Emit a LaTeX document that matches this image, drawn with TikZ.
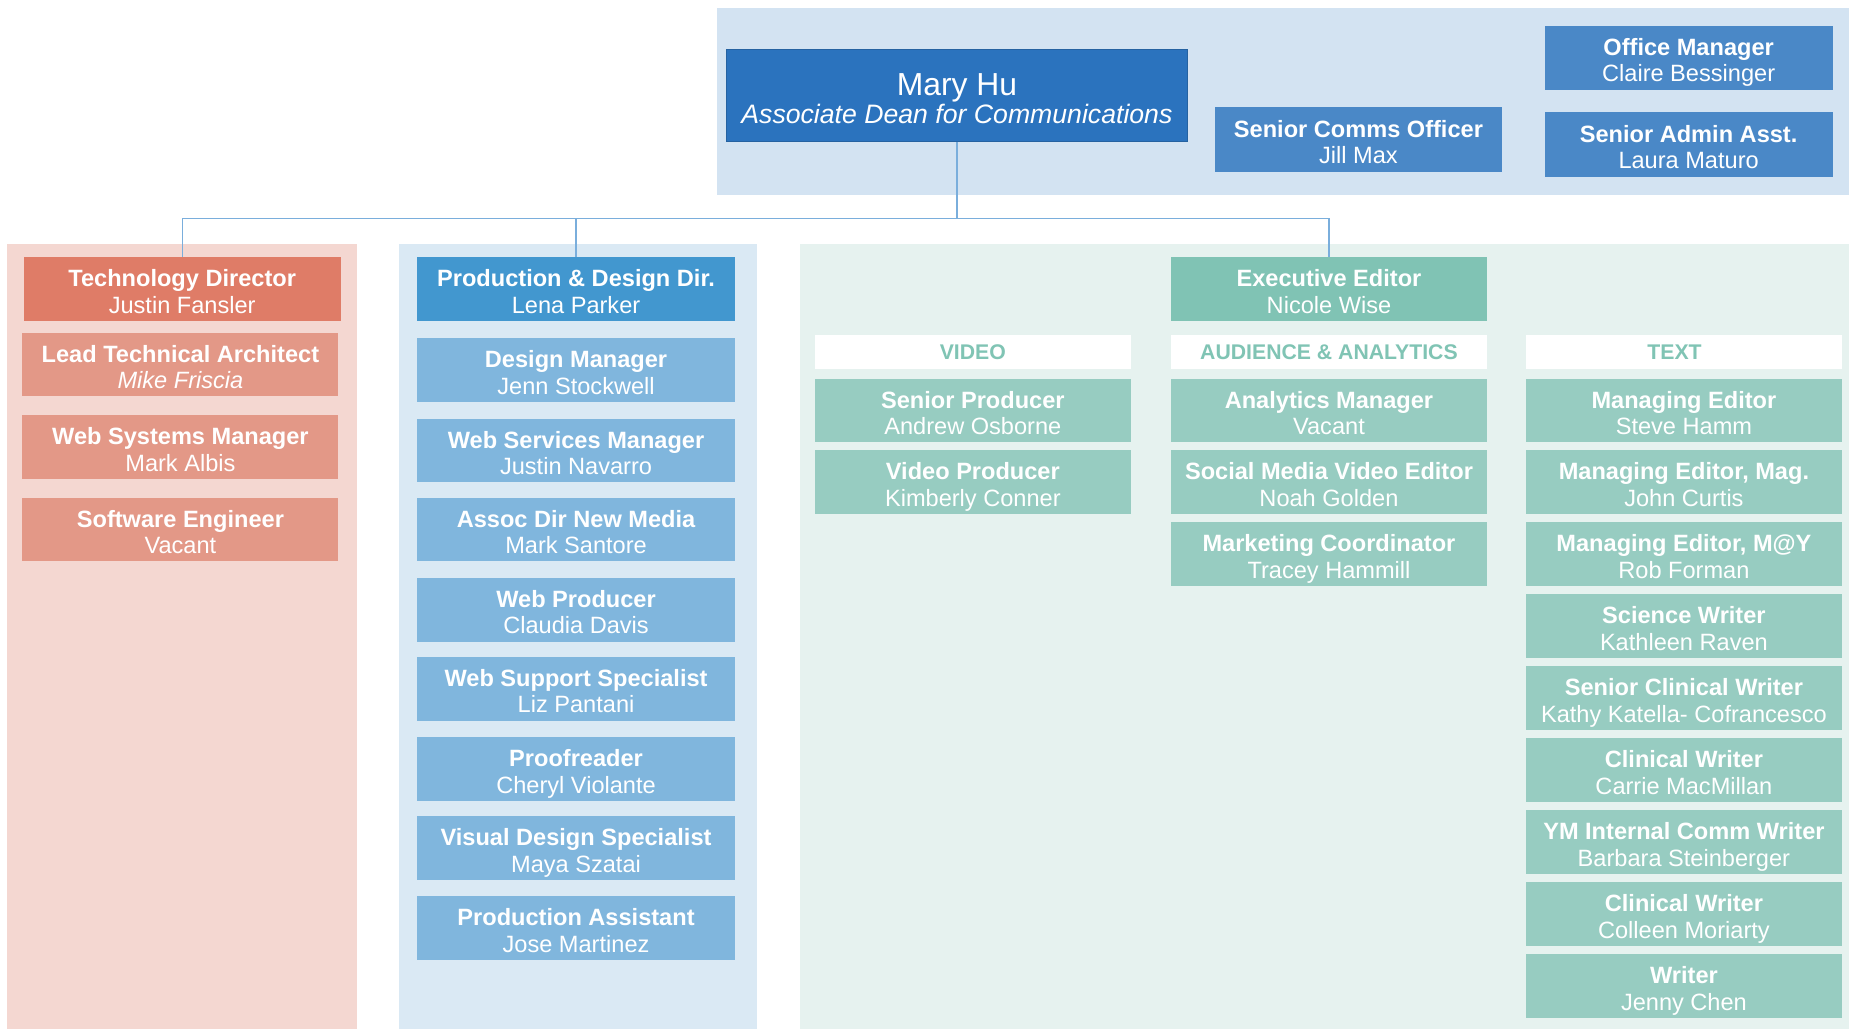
\documentclass[tikz,border=0pt]{standalone}
\usepackage{fontspec}
\setmainfont{Liberation Sans}
\definecolor{pinkbg}{HTML}{F4D7D1}
\definecolor{techdir}{HTML}{DF7C67}
\definecolor{pinkbox}{HTML}{E39887}
\definecolor{bluebg}{HTML}{DAE9F4}
\definecolor{topbg}{HTML}{D3E3F2}
\definecolor{marybox}{HTML}{2B73BE}
\definecolor{commsbox}{HTML}{4A88C7}
\definecolor{proddir}{HTML}{4297CF}
\definecolor{bluebox}{HTML}{80B6DD}
\definecolor{tealbg}{HTML}{E6F2EF}
\definecolor{execbox}{HTML}{80C3B4}
\definecolor{tealbox}{HTML}{97CCC1}
\definecolor{headtxt}{HTML}{80C4B4}
\definecolor{conn}{HTML}{7AAEDC}
\tikzset{
  box/.style={fill=#1, text=white, inner sep=0pt, align=center, rectangle,
    font=\fontsize{20}{22.5}\selectfont},
  wpink/.style={box=#1, minimum width=268pt, minimum height=54pt},
  wcol/.style={box=#1, minimum width=269pt, minimum height=54pt},
  wteal/.style={box=#1, minimum width=268pt, minimum height=54pt},
  wtop/.style={box=#1, minimum width=244pt, minimum height=55pt},
  header/.style={fill=white, text=headtxt, inner sep=0pt, minimum width=268pt,
    minimum height=29pt, font=\fontsize{18}{20}\selectfont\bfseries},
  connline/.style={draw=conn, line width=1pt}
}
\newcommand{\tn}[2]{{\bfseries\rule{0pt}{23pt}#1}\\#2\rule[-4.5pt]{0pt}{4.5pt}}
\begin{document}
\begin{tikzpicture}[x=1pt,y=-1pt]
\useasboundingbox (0,0) rectangle (1568,873);
% backgrounds
\fill[topbg] (608,7) rectangle (1568,165);
\fill[pinkbg] (6,207) rectangle (303,873);
\fill[bluebg] (338,207) rectangle (642,873);
\fill[tealbg] (678,207) rectangle (1568,873);
% top
\node[box=marybox, draw=marybox!85!black, line width=0.6pt, minimum width=391pt, minimum height=78pt,
  font=\fontsize{27}{26}\selectfont] (mary) at (811.5,81)
  {\rule{0pt}{24pt}Mary Hu\\[-2pt]{\fontsize{22.6}{24}\selectfont\itshape Associate Dean for Communications}};
\node[wtop=commsbox] (comms) at (1152,118.5) {\tn{Senior Comms Officer}{Jill Max}};
\node[wtop=commsbox, minimum height=54pt] (office) at (1432,49) {\tn{Office Manager}{Claire Bessinger}};
\node[wtop=commsbox] (admin) at (1432,122.5) {\tn{Senior Admin Asst.}{Laura Maturo}};
% pink column
\node[wcol=techdir] (tech) at (154.5,245) {\tn{Technology Director}{Justin Fansler}};
\node[wpink=pinkbox] (lead) at (153,309) {\tn{Lead Technical Architect}{\itshape Mike Friscia}};
\node[wpink=pinkbox] (websys) at (153,379) {\tn{Web Systems Manager}{Mark Albis}};
\node[wpink=pinkbox] (softeng) at (153,449) {\tn{Software Engineer}{Vacant}};
% blue column
\node[wcol=proddir] (prod) at (488.5,245) {\tn{Production \& Design Dir.}{Lena Parker}};
\node[wcol=bluebox] (design) at (488.5,314) {\tn{Design Manager}{Jenn Stockwell}};
\node[wcol=bluebox] (websvc) at (488.5,382) {\tn{Web Services Manager}{Justin Navarro}};
\node[wcol=bluebox] (assoc) at (488.5,449) {\tn{Assoc Dir New Media}{Mark Santore}};
\node[wcol=bluebox] (webprod) at (488.5,517) {\tn{Web Producer}{Claudia Davis}};
\node[wcol=bluebox] (websup) at (488.5,584) {\tn{Web Support Specialist}{Liz Pantani}};
\node[wcol=bluebox] (proof) at (488.5,652) {\tn{Proofreader}{Cheryl Violante}};
\node[wcol=bluebox] (visual) at (488.5,719) {\tn{Visual Design Specialist}{Maya Szatai}};
\node[wcol=bluebox] (prodasst) at (488.5,787) {\tn{Production Assistant}{Jose Martinez}};
% teal column
\node[wteal=execbox] (exec) at (1127,245) {\tn{Executive Editor}{Nicole Wise}};
\node[header] (hvideo) at (825,298.5) {VIDEO};
\node[header] (haud) at (1127,298.5) {AUDIENCE \& ANALYTICS};
\node[header] (htext) at (1428,298.5) {TEXT\hspace*{16pt}};
\node[wteal=tealbox] (v1) at (825,348) {\tn{Senior Producer}{Andrew Osborne}};
\node[wteal=tealbox] (v2) at (825,409) {\tn{Video Producer}{Kimberly Conner}};
\node[wteal=tealbox] (a1) at (1127,348) {\tn{Analytics Manager}{Vacant}};
\node[wteal=tealbox] (a2) at (1127,409) {\tn{Social Media Video Editor}{Noah Golden}};
\node[wteal=tealbox] (a3) at (1127,470) {\tn{Marketing Coordinator}{Tracey Hammill}};
\node[wteal=tealbox] (t1) at (1428,348) {\tn{Managing Editor}{Steve Hamm}};
\node[wteal=tealbox] (t2) at (1428,409) {\tn{Managing Editor, Mag.}{John Curtis}};
\node[wteal=tealbox] (t3) at (1428,470) {\tn{Managing Editor, M@Y}{Rob Forman}};
\node[wteal=tealbox] (t4) at (1428,531) {\tn{Science Writer}{Kathleen Raven}};
\node[wteal=tealbox] (t5) at (1428,592) {\tn{Senior Clinical Writer}{Kathy Katella- Cofrancesco}};
\node[wteal=tealbox] (t6) at (1428,653) {\tn{Clinical Writer}{Carrie MacMillan}};
\node[wteal=tealbox] (t7) at (1428,714) {\tn{YM Internal Comm Writer}{Barbara Steinberger}};
\node[wteal=tealbox] (t8) at (1428,775) {\tn{Clinical Writer}{Colleen Moriarty}};
\node[wteal=tealbox] (t9) at (1428,836) {\tn{Writer}{Jenny Chen}};
% connectors
\coordinate (bus) at (0,185);
\draw[connline] (mary.south) -- (mary.south |- bus);
\draw[connline] (tech.north) -- (tech.north |- bus) -- (exec.north |- bus) -- (exec.north);
\draw[connline] (prod.north) -- (prod.north |- bus);
\end{tikzpicture}
\end{document}
